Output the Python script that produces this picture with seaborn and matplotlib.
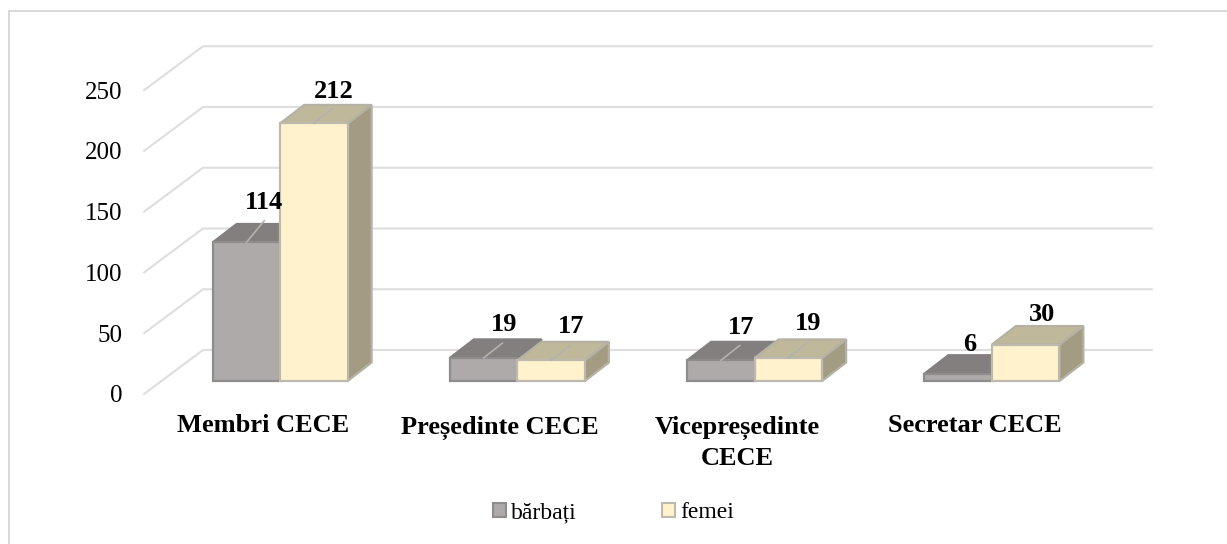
import pandas as pd
import matplotlib
matplotlib.use("Agg")
import matplotlib.pyplot as plt
import matplotlib.transforms as mtrans
from matplotlib.lines import Line2D
from matplotlib.patches import Polygon, Rectangle
import seaborn as sns

# data
categories = ["Membri CECE", "Președinte CECE", "Vicepreședinte\nCECE", "Secretar CECE"]
barbati = [114, 19, 17, 6]
femei = [212, 17, 19, 30]
series_names = ["bărbați", "femei"]
y_ticks = [0, 50, 100, 150, 200, 250]

df = pd.DataFrame({
    "cat": categories * 2,
    "val": barbati + femei,
    "sex": [series_names[0]] * 4 + [series_names[1]] * 4,
})

W, H = 1227, 544
PX_X = 237.25   # pixels per category
PX_Y = 1.215    # pixels per value unit
LEFT, BOTTOM = 161.5, 381

sns.set_theme(style="white")
plt.rcParams["font.family"] = ["Liberation Serif", "DejaVu Serif"]

fig = plt.figure(figsize=(W / 100, H / 100), dpi=100)
ax = fig.add_axes([LEFT / W, 1 - BOTTOM / H, 4 * PX_X / W, 250 * PX_Y / H])

sns.barplot(data=df, x="cat", y="val", hue="sex", hue_order=series_names,
            palette=["#AEAAAA", "#FFF2CC"], saturation=1, width=0.569, gap=0, dodge=True,
            legend=False, ax=ax, zorder=3)
ax.set_xlim(-0.5, 3.5)
ax.set_ylim(0, 250)
ax.set_xlabel("")
ax.set_ylabel("")
ax.set_yticks(y_ticks)
ax.patch.set_visible(False)
sns.despine(ax=ax, left=True, bottom=True)

# depth of the fake 3d, in data units
bar_dx, bar_dy = 24 / PX_X, 18.5 / PX_Y
wall_dx, wall_dy = 41.5 / PX_X, 31 / PX_Y
floor_dx, floor_dy = -17.5 / PX_X, -13 / PX_Y

# back wall grid
for v in y_ticks:
    ax.plot([-0.5 + floor_dx, -0.5 + wall_dx, 3.5 + wall_dx],
            [v + floor_dy, v + wall_dy, v + wall_dy],
            color="#DEDEDE", lw=1.5, clip_on=False, zorder=1, solid_joinstyle="miter")

# bars, side and top faces
styles = [
    {"edge": "#8E8C8C", "top": "#827F7E", "side": "#827F7E", "top_edge": "#827F7E"},
    {"edge": "#BDB9AE", "top": "#C0B89A", "side": "#A39C82", "top_edge": "#B5B2A5"},
]
leader = [[(18, 22), (19, 15), (19, 15), None],
          [(19, 15), (19, 15), (19, 15), None]]
shift = [[(18, 40), (20, 33), (20, 33), (12, 29)],
         [(20, 32), (20, 34), (20, 34), (16, 30)]]

for s, cont in enumerate(ax.containers):
    st = styles[s]
    z = 3 + s * 2
    for i, bar in enumerate(cont):
        x0, w, h = bar.get_x(), bar.get_width(), bar.get_height()
        x1 = x0 + w
        bar.set_edgecolor(st["edge"])
        bar.set_linewidth(1.6)
        bar.set_zorder(z + 1)
        bar.set_clip_on(False)
        side = Polygon([(x1, 0), (x1 + bar_dx, bar_dy), (x1 + bar_dx, h + bar_dy), (x1, h)],
                       facecolor=st["side"], edgecolor=st["top_edge"], lw=1.6, zorder=z, clip_on=False)
        top = Polygon([(x0, h), (x1, h), (x1 + bar_dx, h + bar_dy), (x0 + bar_dx, h + bar_dy)],
                      facecolor=st["top"], edgecolor=st["top_edge"], lw=1.6, zorder=z, clip_on=False)
        ax.add_patch(side)
        ax.add_patch(top)
        cx = x0 + w / 2
        if leader[s][i] is not None:
            lx, ly = leader[s][i]
            ax.plot([cx, cx + lx / PX_X], [h, h + ly / PX_Y], color="#B4B2AC", lw=1.2,
                    clip_on=False, zorder=z + 2)
        sx, sy = shift[s][i]
        ax.annotate(str(int(h)), xy=(cx, h), xytext=(sx * 0.72, sy * 0.72),
                    textcoords="offset points", ha="center", va="center",
                    fontsize=19, fontweight="bold", color="black", zorder=9)

# tick labels sit on the front of the floor
ax.tick_params(axis="y", length=0, pad=28.4, labelsize=18, labelcolor="black")
ax.tick_params(axis="x", length=0, pad=23.5, labelsize=19, labelcolor="black")
for lab in ax.get_yticklabels():
    lab.set_transform(lab.get_transform() + mtrans.Affine2D().translate(0, -13))
for lab, dy in zip(ax.get_xticklabels(), [0, -2, -2, 0]):
    lab.set_fontweight("bold")
    lab.set_linespacing(1.38)
    lab.set_transform(lab.get_transform() + mtrans.Affine2D().translate(-17.5, dy))

# legend
handles = [Rectangle((0, 0), 1, 1, facecolor=c, edgecolor=e, lw=1.5)
           for c, e in zip(["#AEAAAA", "#FFF2CC"], [styles[0]["edge"], styles[1]["edge"]])]
fig.legend(handles, series_names, loc="center", bbox_to_anchor=(613.5 / W, 1 - 513 / H),
           ncol=2, frameon=False, fontsize=17, handlelength=0.55, handleheight=0.55,
           handletextpad=0.22, columnspacing=3.6, borderpad=0, labelcolor="black")

# frame of the picture: only top and left are visible
fig.add_artist(Line2D([9 / W, 9 / W, 1], [0, 1 - 11 / H, 1 - 11 / H], transform=fig.transFigure,
                      color="#D9D9D9", lw=1.4, solid_joinstyle="miter"))

fig.savefig("out.png", dpi=100)
